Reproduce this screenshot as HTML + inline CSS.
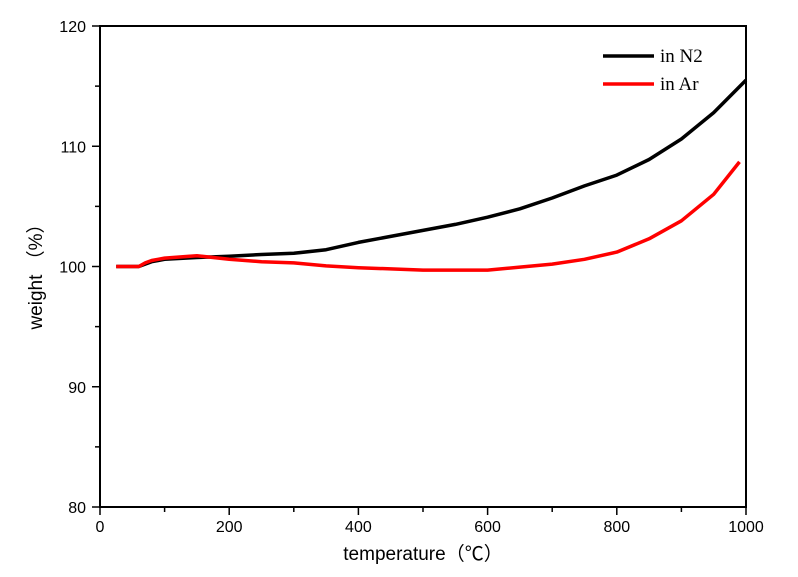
<!DOCTYPE html>
<html><head><meta charset="utf-8"><style>
body{margin:0;background:#fff}
svg{display:block}
.t{font-family:"Liberation Sans","Noto Sans CJK SC",sans-serif;font-size:16px;fill:#000}
.lab{font-family:"Liberation Sans","Noto Sans CJK SC",sans-serif;font-size:19px;fill:#000}
.leg{font-family:"Liberation Serif",serif;font-size:19px;fill:#000}
</style></head><body>
<svg id="c" width="798" height="577"></svg>
<script>
const xTicks=[0,200,400,600,800,1000];
const yTicks=[80,90,100,110,120];
const tempN2=[25,60,70,80,90,100,150,200,250,300,350,400,450,500,550,600,650,700,750,800,850,900,950,1000];
const weightN2=[100,100,100.2,100.4,100.5,100.6,100.75,100.85,101,101.1,101.4,102,102.5,103,103.5,104.1,104.8,105.7,106.7,107.6,108.9,110.6,112.8,115.5];
const tempAr=[25,60,70,80,90,100,150,200,250,300,350,400,450,500,550,600,650,700,750,800,850,900,950,990];
const weightAr=[100,100,100.3,100.5,100.6,100.7,100.9,100.6,100.4,100.3,100.05,99.9,99.8,99.7,99.7,99.7,99.95,100.2,100.6,101.2,102.3,103.8,106,108.7];
const L=100,R=746,T=26,B=507;
const sx=v=>L+(v-0)/(1000)*(R-L);
const sy=v=>B-(v-80)/40*(B-T);
const svg=document.getElementById('c');
const NS='http://www.w3.org/2000/svg';
function mk(tag,at,parent){const e=document.createElementNS(NS,tag);for(const k in at)e.setAttribute(k,at[k]);(parent||svg).appendChild(e);return e;}
let e;
e=mk('rect',{x:L,y:T,width:R-L,height:B-T,fill:'none',stroke:'#000','stroke-width':2});


for(let v=0;v<=1000;v+=100){const major=v%200===0;
 e=mk('line',{x1:sx(v),x2:sx(v),y1:B,y2:B+(major?8:5),stroke:'#000','stroke-width':1.5});
 
 }
for(let v=80;v<=120;v+=5){const major=v%10===0;
 e=mk('line',{x1:L-(major?8:5),x2:L,y1:sy(v),y2:sy(v),stroke:'#000','stroke-width':1.5});
 
 }
xTicks.forEach(v=>{e=mk('text',{x:sx(v),y:B+25,'text-anchor':'middle',class:'t'});e.textContent=v;
 
 });
yTicks.forEach(v=>{e=mk('text',{x:L-14,y:sy(v)+6,'text-anchor':'end',class:'t'});e.textContent=v;
 
 });
function series(xs,ys,col,name){
 const d=xs.map((x,i)=>(i?'L':'M')+sx(x).toFixed(1)+','+sy(ys[i]).toFixed(1)).join('');
 e=mk('path',{d:d,fill:'none',stroke:col,'stroke-width':3.5,'stroke-linejoin':'round'});
 
 
}
series(tempN2,weightN2,'#000','series-n2');
series(tempAr,weightAr,'#f00','series-ar');
e=mk('text',{x:(L+R)/2,y:560,'text-anchor':'middle',class:'lab'});e.textContent='temperature（℃）';


e=mk('text',{x:0,y:0,'text-anchor':'middle',class:'lab',transform:'translate(42,272) rotate(-90)'});e.textContent='weight （%）';


[['in N2','#000',56],['in Ar','#f00',84]].forEach(([t,c,y])=>{
 e=mk('line',{x1:603,x2:654,y1:y,y2:y,stroke:c,'stroke-width':3.5});
 
 
 e=mk('text',{x:660,y:y+6,class:'leg'});e.textContent=t;
 
 
});
</script>
</body></html>
